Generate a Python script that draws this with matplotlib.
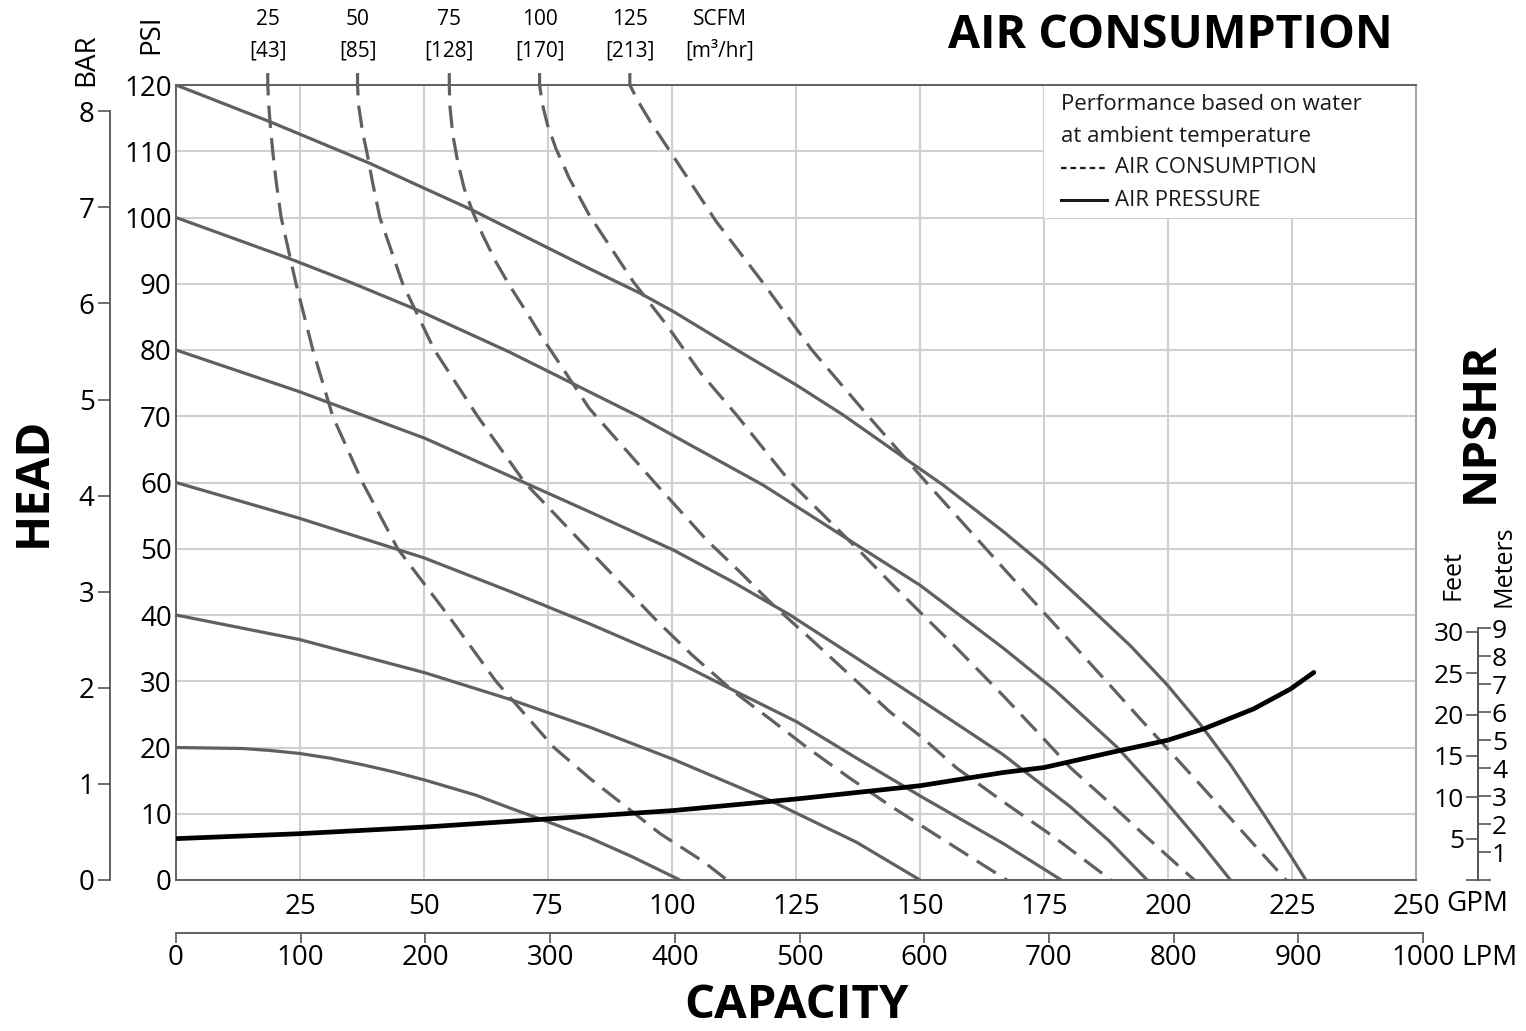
import matplotlib
matplotlib.use("Agg")
import matplotlib.pyplot as plt
from matplotlib.patches import Rectangle
from matplotlib.lines import Line2D

plt.rcParams['font.family'] = ['Open Sans', 'DejaVu Sans']

# air pressure curves (GPM, PSI)
gpm_20 = [0, 13.4, 19, 24.9, 31, 37.6, 44, 50.1, 60.5, 67.2, 75.3, 83.3, 92, 101.6]
psi_20 = [20, 19.85, 19.55, 19.1, 18.4, 17.4, 16.3, 15.1, 12.8, 10.9, 8.7, 6.4, 3.5, 0]
gpm_40 = [0, 24.9, 50.1, 67.2, 83.3, 100.3, 119.8, 137.2, 150]
psi_40 = [40, 36.3, 31.3, 27.3, 23.1, 18.2, 12.0, 5.7, 0]
gpm_60 = [0, 24.9, 50.1, 67.2, 83.3, 100.3, 113, 125.1, 137.2, 150.7, 166.8, 178.5]
psi_60 = [60, 54.6, 48.6, 43.6, 38.7, 33.2, 28.4, 23.9, 18.4, 12.4, 5.5, 0]
gpm_80 = [0, 24.9, 50.1, 69.9, 83.3, 100.3, 112, 123.8, 137.2, 150.7, 166.8, 180.4, 188, 195.8]
psi_80 = [80, 73.7, 66.7, 60.1, 55.6, 49.8, 45.1, 40, 33.5, 26.9, 18.9, 11.0, 6.0, 0]
gpm_100 = [0, 22.5, 34.9, 49.1, 67.2, 83.3, 93.5, 103.6, 118.4, 137.2, 150, 166.8, 177, 189.8, 197.8, 206.6, 212.6]
psi_100 = [100, 93.9, 90.3, 85.9, 79.7, 73.7, 69.9, 65.7, 59.6, 50.6, 44.5, 35.0, 28.8, 20.0, 13.4, 5.6, 0]
gpm_120 = [0, 18.8, 39, 50.1, 59.8, 83.3, 93.5, 100.3, 112.4, 125.1, 134.5, 148, 154.7, 166.8, 175,
           183.7, 192.5, 199.9, 206.6, 212.6, 219.4, 224.7, 227.8]
psi_120 = [120, 114.5, 108.2, 104.4, 101.1, 92.3, 88.6, 85.8, 80.3, 74.7, 70.2, 63.1, 59.6, 52.6, 47.5,
           41.5, 35.3, 29.4, 23.4, 17.4, 9.8, 3.7, 0]

# air consumption curves (GPM, PSI)
gpm_s25 = [18.5, 18.5, 18.7, 19.0, 19.5, 20.2, 21.2, 24.2, 27.6, 31.6, 37.6, 44.7, 54.8, 64.5, 76.2,
           83.5, 91.5, 97.6, 106.3, 111.1]
psi_s25 = [121.8, 120, 117, 114, 110, 105.4, 100, 90, 80, 70, 60, 50, 40, 30, 20,
           15.3, 10.6, 7.0, 2.8, 0]
gpm_s50 = [36.6, 36.6, 36.8, 37.6, 38.6, 39.6, 41.1, 45.7, 52.1, 60.8, 70.3, 83.0, 97.1, 104.0, 112.5,
           119.6, 127.4, 135.8, 143.8, 153.2, 167.5]
psi_s50 = [121.8, 120, 117, 113, 109.4, 105.4, 100, 90, 80, 70, 60, 50, 39, 34, 28.4,
           24.4, 19.9, 15.4, 11.3, 6.8, 0]
gpm_s75 = [55.1, 55.1, 55.2, 55.8, 56.8, 58.1, 59.8, 61.8, 64.5, 67.2, 70.6, 73.9, 78, 83.3, 96.5, 107,
           113.7, 120.4, 127.8, 135.9, 143.9, 150.6, 157.4, 166.8, 177, 188.5]
psi_s75 = [121.8, 120, 117, 112.5, 108.4, 104.4, 100.9, 97.4, 93.3, 89.8, 85.8, 81.8, 77.2, 71.2, 60, 51.3,
           46.5, 41.5, 36.5, 30.9, 25.4, 21.4, 16.9, 11.8, 6.5, 0]
gpm_s100 = [73.3, 73.3, 73.9, 74.9, 76.6, 79.3, 83.3, 92.2, 98.9, 105.6, 113.0, 123.8, 130.5, 137.9, 143.9,
            150.6, 157.4, 166.8, 173.6, 180.4, 187.1, 195.2, 205.3]
psi_s100 = [121.8, 120, 117, 114, 110.4, 105.9, 100.4, 90.3, 83.8, 76.7, 70.2, 60.1, 55.1, 49.6, 45.0,
            40, 35, 27.8, 22.4, 16.9, 12.4, 6.8, 0]
gpm_s125 = [91.5, 91.5, 93.2, 95.6, 99.6, 108.9, 118.5, 128.2, 139.6, 151.3, 167.5, 173.6, 180.9, 188.3,
            194.3, 199.8, 206.6, 213.2, 219.2, 223.8]
psi_s125 = [121.8, 120, 117.5, 114.5, 110, 99.4, 90, 80, 70, 60, 46.5, 41.5, 35.5, 29.4,
            24.4, 19.9, 14.3, 8.8, 3.8, 0]

# NPSHR (GPM, feet)
gpm_npshr = [0, 24.9, 50.1, 75.3, 100.3, 125.1, 150, 166.8, 175, 189.1, 199.9, 207.3, 217.3, 224.7, 229.4]
ft_npshr = [5.0, 5.6, 6.4, 7.4, 8.4, 9.8, 11.4, 13.0, 13.6, 15.5, 16.9, 18.3, 20.7, 23.1, 25.1]

scfm = ['25', '50', '75', '100', '125']
m3hr = ['[43]', '[85]', '[128]', '[170]', '[213]']

gpm_ticks = [25, 50, 75, 100, 125, 150, 175, 200, 225, 250]
psi_ticks = list(range(0, 121, 10))
bar_ticks = list(range(0, 9))
lpm_ticks = list(range(0, 1001, 100))
ft_ticks = [0, 5, 10, 15, 20, 25, 30]
m_ticks = list(range(0, 10))

gris = '#606060'
axe = '#555555'
W, H = 1526, 1031
fig = plt.figure(figsize=(W / 100, H / 100), dpi=100)
ax = fig.add_axes([176 / W, 1 - 880 / H, 1240 / W, 795 / H])
ax.set_xlim(0, 250)
ax.set_ylim(0, 120)

ax.set_xticks(gpm_ticks)
ax.set_xticklabels([str(t) for t in gpm_ticks])
ax.set_yticks(psi_ticks)
ax.set_yticklabels([str(t) for t in psi_ticks])
ax.tick_params(axis='both', length=0, labelsize=20)
ax.tick_params(axis='x', pad=9)
ax.tick_params(axis='y', pad=3)
ax.grid(True, color='#d0d0d0', lw=1.5, zorder=0)
ax.set_axisbelow(True)
for s in ['left', 'bottom', 'top']:
    ax.spines[s].set_color(axe)
    ax.spines[s].set_linewidth(1.3)
ax.spines['right'].set_color('#a8a8a8')
ax.spines['right'].set_linewidth(1.5)

# white box behind the note
ax.add_patch(Rectangle((175, 100), 75, 20, facecolor='white', edgecolor='none', zorder=1))

for g, p in [(gpm_20, psi_20), (gpm_40, psi_40), (gpm_60, psi_60),
             (gpm_80, psi_80), (gpm_100, psi_100), (gpm_120, psi_120)]:
    ax.plot(g, p, color=gris, lw=2.3, zorder=3, solid_capstyle='butt', solid_joinstyle='round')

dashed = [(gpm_s25, psi_s25), (gpm_s50, psi_s50), (gpm_s75, psi_s75),
          (gpm_s100, psi_s100), (gpm_s125, psi_s125)]
for g, p in dashed:
    ax.plot(g, p, color=gris, lw=2.3, dashes=(7, 3.2), zorder=3, clip_on=False)

xt = ax.get_xaxis_transform()
for i, (g, p) in enumerate(dashed):
    ax.text(g[0], 1.0824, scfm[i], transform=xt, ha='center', va='center', fontsize=15)
    ax.text(g[0], 1.0428, m3hr[i], transform=xt, ha='center', va='center', fontsize=15)
sx = gpm_s125[0] + (gpm_s125[0] - gpm_s100[0])
ax.text(sx, 1.0824, 'SCFM', transform=xt, ha='center', va='center', fontsize=15)
ax.text(sx, 1.0428, '[m³/hr]', transform=xt, ha='center', va='center', fontsize=15)

# note
ax.text(178.4, 117.1, 'Performance based on water', ha='left', va='center', fontsize=16, color='#1a1a1a')
ax.text(178.4, 112.3, 'at ambient temperature', ha='left', va='center', fontsize=16, color='#1a1a1a')
ax.text(189.3, 107.5, 'AIR CONSUMPTION', ha='left', va='center', fontsize=16, color='#1a1a1a')
ax.text(189.3, 102.6, 'AIR PRESSURE', ha='left', va='center', fontsize=16, color='#1a1a1a')
fig.add_artist(Line2D([1061 / W, 1107 / W], [1 - 168 / H, 1 - 168 / H], color='#1a1a1a', lw=1.6,
                      dashes=(2.5, 1.8)))
fig.add_artist(Line2D([1061 / W, 1107 / W], [1 - 200 / H, 1 - 200 / H], color='#1a1a1a', lw=2.2))

# BAR axis
bar = ax.secondary_yaxis(-66 / 1240, functions=(lambda p: p / 14.5038, lambda b: b * 14.5038))
bar.set_yticks(bar_ticks)
bar.set_yticklabels([str(t) for t in bar_ticks])
bar.tick_params(length=9, width=1.2, color=axe, labelsize=20, pad=2)
bar.spines['left'].set_bounds(0, 8)
bar.spines['left'].set_color(axe)
bar.spines['left'].set_linewidth(1.3)

# LPM axis
axl = fig.add_axes([176 / W, 1 - 933 / H, 1247 / W, 0.0001])
axl.set_xlim(0, 1000)
axl.patch.set_visible(False)
for s in ['left', 'right', 'top']:
    axl.spines[s].set_visible(False)
axl.spines['bottom'].set_color(axe)
axl.spines['bottom'].set_linewidth(1.3)
axl.set_yticks([])
axl.set_xticks(lpm_ticks)
axl.set_xticklabels([str(t) for t in lpm_ticks])
axl.tick_params(axis='x', length=7, width=1.2, color=axe, labelsize=20, pad=1)

# NPSHR feet / meters
axf = ax.twinx()
axf.set_ylim(0, 795 / 8.27)
axf.yaxis.tick_left()
axf.spines['left'].set_position(('axes', 1.05))
axf.spines['left'].set_bounds(0, 30)
axf.spines['left'].set_color(axe)
axf.spines['left'].set_linewidth(1.3)
for s in ['right', 'top', 'bottom']:
    axf.spines[s].set_visible(False)
axf.set_yticks(ft_ticks)
axf.set_yticklabels([''] + [str(t) for t in ft_ticks[1:]])
axf.tick_params(axis='y', length=9, width=1.2, color=axe, labelsize=19, pad=1)
axf.plot(gpm_npshr, ft_npshr, color='black', lw=3.4, solid_capstyle='round', zorder=5)

axm = ax.twinx()
axm.set_ylim(0, 795 / 28.0)
axm.spines['right'].set_position(('axes', 1.05))
axm.spines['right'].set_bounds(0, 9)
axm.spines['right'].set_color(axe)
axm.spines['right'].set_linewidth(1.3)
for s in ['left', 'top', 'bottom']:
    axm.spines[s].set_visible(False)
axm.set_yticks(m_ticks)
axm.set_yticklabels([''] + [str(t) for t in m_ticks[1:]])
axm.tick_params(axis='y', length=9, width=1.2, color=axe, labelsize=19, pad=1)

# labels
fig.text(1170 / W, 1 - 36 / H, 'AIR CONSUMPTION', ha='center', va='center', fontsize=33.5, fontweight='bold')
fig.text(33 / W, 1 - 482 / H, 'HEAD', ha='center', va='center', fontsize=34, fontweight='bold', rotation=90)
fig.text(797 / W, 1 - 1006 / H, 'CAPACITY', ha='center', va='center', fontsize=34, fontweight='bold')
fig.text(1480 / W, 1 - 422 / H, 'NPSHR', ha='center', va='center', fontsize=34, fontweight='bold', rotation=90)
fig.text(86 / W, 1 - 60 / H, 'BAR', ha='center', va='center', fontsize=20, rotation=90)
fig.text(151 / W, 1 - 34 / H, 'PSI', ha='center', va='center', fontsize=20, rotation=90)
fig.text(1453 / W, 1 - 575 / H, 'Feet', ha='center', va='center', fontsize=18, rotation=90)
fig.text(1504 / W, 1 - 566 / H, 'Meters', ha='center', va='center', fontsize=18, rotation=90)
fig.text(1477 / W, 1 - 904 / H, 'GPM', ha='center', va='center', fontsize=20)
fig.text(1489 / W, 1 - 958 / H, 'LPM', ha='center', va='center', fontsize=20)

fig.savefig('out.png', dpi=100)
